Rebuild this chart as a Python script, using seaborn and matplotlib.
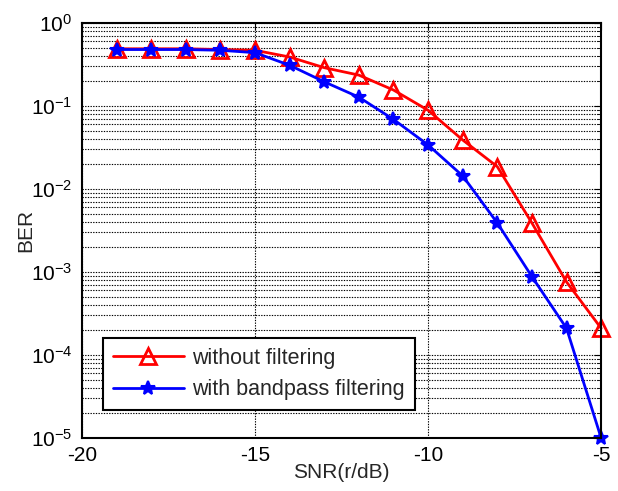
import numpy as np
import pandas as pd
import matplotlib
matplotlib.use("Agg")
import matplotlib.pyplot as plt
import seaborn as sns
from matplotlib.ticker import LogLocator, NullFormatter

# SNR values (dB)
snr = [-19, -18, -17, -16, -15, -14, -13, -12, -11, -10, -9, -8, -7, -6, -5]

# BER
ber_no_filter = [0.49, 0.49, 0.49, 0.48, 0.47, 0.39, 0.29, 0.236, 0.156, 0.089,
                 0.039, 0.0186, 0.0039, 0.00076, 0.00021]
ber_bandpass = [0.48, 0.48, 0.48, 0.47, 0.44, 0.31, 0.196, 0.128, 0.069, 0.034,
                0.0144, 0.0039, 0.00088, 0.00021, 0.00001]

labels = ["without filtering", "with bandpass filtering"]

sns.set_style("white")
plt.rcParams["font.family"] = ["Liberation Sans", "DejaVu Sans"]
plt.rcParams["mathtext.default"] = "regular"
plt.rcParams["axes.unicode_minus"] = False

df = pd.DataFrame({
    "snr": snr * 2,
    "ber": ber_no_filter + ber_bandpass,
    "series": [labels[0]] * len(snr) + [labels[1]] * len(snr),
})

fig = plt.figure(figsize=(6.18, 4.91), dpi=100)
ax = fig.add_axes([0.1327, 0.108, 0.840, 0.845])

sns.lineplot(data=df[df.series == labels[0]], x="snr", y="ber", ax=ax,
             color="#ff0000", linewidth=2, marker="^", markersize=12,
             markerfacecolor="none", markeredgecolor="#ff0000",
             markeredgewidth=2, label=labels[0], clip_on=False)
sns.lineplot(data=df[df.series == labels[1]], x="snr", y="ber", ax=ax,
             color="#0000ff", linewidth=2, marker="*", markersize=10,
             markerfacecolor="#0000ff", markeredgecolor="#0000ff",
             markeredgewidth=1.5, label=labels[1], clip_on=False)

ax.set_yscale("log")
ax.set_xlim(-20, -5)
ax.set_ylim(1e-5, 1)
ax.set_xticks([-20, -15, -10, -5])
ax.yaxis.set_major_locator(LogLocator(base=10, numticks=10))
ax.yaxis.set_minor_locator(LogLocator(base=10, subs=np.arange(2, 10), numticks=100))
ax.yaxis.set_minor_formatter(NullFormatter())

ax.grid(True, which="major", axis="both", color="black", linestyle=(0, (1.2, 1.2)), linewidth=0.8)
ax.grid(True, which="minor", axis="y", color="black", linestyle=(0, (1.2, 1.2)), linewidth=0.8)

ax.tick_params(axis="both", which="both", direction="in", top=True, right=True,
               labelsize=15, colors="black")
ax.tick_params(axis="x", which="major", length=5, pad=6)
ax.tick_params(axis="y", which="major", length=5, pad=7)
ax.tick_params(which="minor", length=3)
for s in ax.spines.values():
    s.set_color("black")
    s.set_linewidth(1.5)

ax.set_xlabel("SNR(r/dB)", fontsize=15, labelpad=-2)
ax.set_ylabel("BER", fontsize=15, labelpad=-3)

leg = ax.legend(loc="lower left", bbox_to_anchor=(0.0405, 0.0675), borderaxespad=0,
                fontsize=15.5, frameon=True, fancybox=False, handlelength=3.3,
                handletextpad=0.4, borderpad=0.45, labelspacing=0.5)
leg.get_frame().set_edgecolor("black")
leg.get_frame().set_linewidth(1.5)
leg.get_frame().set_alpha(1)

fig.savefig("out.png", dpi=100)
